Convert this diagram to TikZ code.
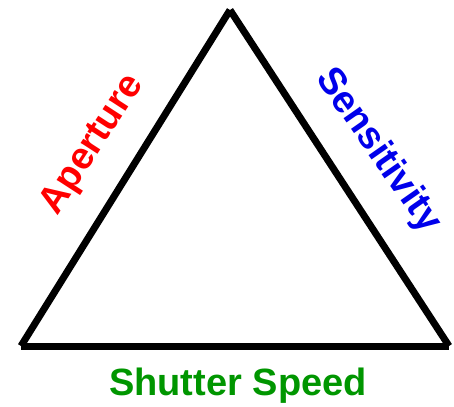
\documentclass[tikz,border=0pt]{standalone}
\usepackage{fontspec}
\setmainfont{Liberation Sans}
\definecolor{apred}{RGB}{255,0,0}
\definecolor{senblue}{RGB}{0,0,235}
\definecolor{shgreen}{RGB}{0,150,0}
\begin{document}
\begin{tikzpicture}[x=1pt,y=-1pt,
  side/.style={line width=7pt,black},
  lbl/.style={font=\fontsize{38}{40}\selectfont\bfseries,inner sep=0pt}]
\useasboundingbox[fill=white] (0,0) rectangle (454,406);
\coordinate (T) at (230,10);
\coordinate (L) at (21,346);
\coordinate (R) at (449,346);
\draw[side] (L) -- (T);
\draw[side] (T) -- (R);
\draw[side] (L) -- (R);
\node[lbl,text=apred,rotate=57] (ap) at (93,145) {Aperture};
\node[lbl,text=senblue,rotate=-55] (se) at (378,151) {Sensitivity};
\node[lbl,text=shgreen,anchor=base] (sh) at (238,395) {Shutter Speed};
\end{tikzpicture}
\end{document}
